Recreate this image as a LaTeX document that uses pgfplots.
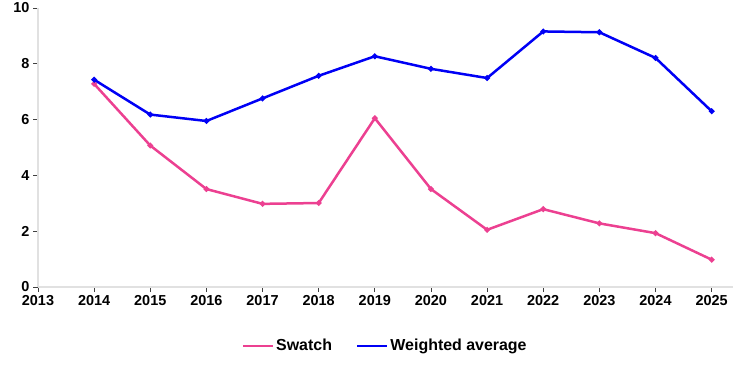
\documentclass[border=0pt]{standalone}
\usepackage{pgfplots}
\pgfplotsset{compat=1.18}
\usepackage{fontspec}
\setmainfont{Liberation Sans}
\definecolor{swpink}{RGB}{236,64,145}
\definecolor{wblue}{RGB}{0,0,245}
\definecolor{axgray}{RGB}{225,225,225}
\begin{document}
\begin{tikzpicture}
\begin{axis}[
  name=ax,
  scale only axis,
  width=695bp, height=279bp,
  xmin=2013, xmax=2025.38,
  ymin=0, ymax=10,
  axis x line*=bottom, axis y line*=left,
  axis line style={axgray, line width=2bp, -},
  xtick={2013,...,2025},
  ytick={0,2,...,10},
  x tick label style={/pgf/number format/1000 sep={}},
  tick style={black!75, line width=0.8bp},
  tick align=outside,
  major tick length=5bp,
  tick label style={font=\fontsize{14.5}{16}\selectfont\bfseries},
  /pgf/number format/assume math mode=true,
  clip=false,
  legend columns=2,
  legend style={draw=none, at={(0.4995,-0.211)}, anchor=center,
    font=\fontsize{16}{18}\selectfont\bfseries,
    /tikz/every even column/.append style={column sep=22bp}},
  legend image code/.code={\draw[#1, mark=none] (0bp,0bp) -- (30bp,0bp);},
]
\addplot[swpink, line width=2.5bp, mark=*, mark size=1.4bp] coordinates {
(2014,7.28) (2015,5.07) (2016,3.51) (2017,2.98) (2018,3.01) (2019,6.05)
(2020,3.51) (2021,2.05) (2022,2.79) (2023,2.28) (2024,1.93) (2025,0.98)};
\addlegendentry{Swatch}
\addplot[wblue, line width=2.5bp, mark=*, mark size=1.4bp] coordinates {
(2014,7.43) (2015,6.18) (2016,5.95) (2017,6.76) (2018,7.57) (2019,8.27)
(2020,7.82) (2021,7.49) (2022,9.16) (2023,9.13) (2024,8.21) (2025,6.30)};
\addlegendentry{Weighted average}
\end{axis}
\pgfresetboundingbox
\path[use as bounding box] ([xshift=-38bp,yshift=-88bp]ax.south west) rectangle ([yshift=8bp]ax.north east);
\end{tikzpicture}
\end{document}
